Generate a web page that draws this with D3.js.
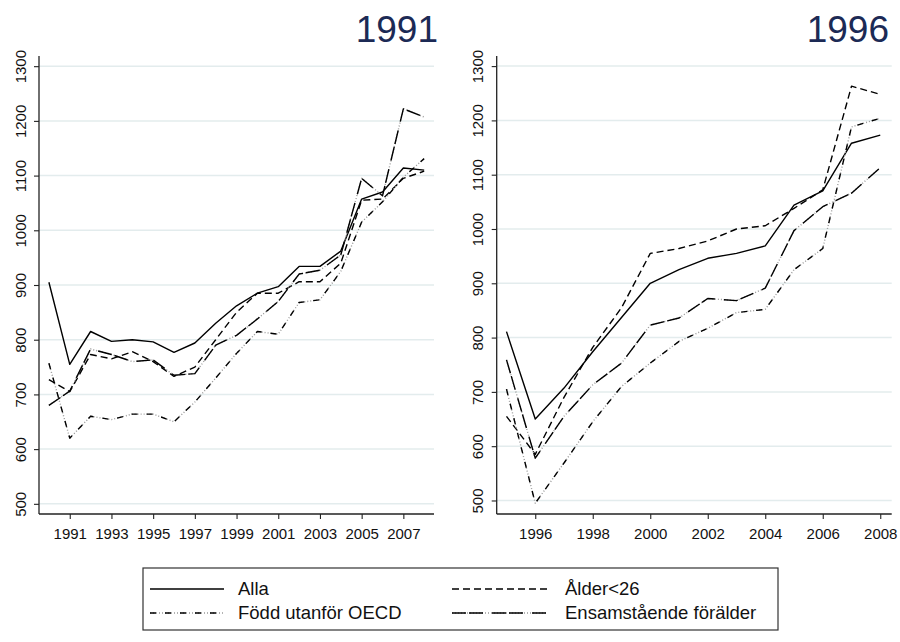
<!DOCTYPE html>
<html><head><meta charset="utf-8">
<script src="https://cdn.jsdelivr.net/npm/d3@7"></script>
<style>body{margin:0;background:#fff;} svg{display:block;font-family:"Liberation Sans",Arial,sans-serif;}</style>
</head><body><svg id="c" width="900" height="642"></svg>
<script>
// ---- data ----
const yearsLeft = d3.range(1990, 2009);
const allaLeft  = [905,755,815,797,800,796,777,794,830,862,885,897,934,934,962,1057,1070,1114,1110];
const alderLeft = [727,705,773,765,778,760,733,750,800,850,885,885,906,906,940,1055,1057,1095,1108];
const foddLeft  = [757,620,660,654,664,664,650,686,730,775,815,810,868,873,925,1015,1052,1097,1131];
const ensamLeft = [680,706,783,773,760,763,735,738,790,808,838,870,920,927,955,1095,1063,1222,1207];

const yearsRight = d3.range(1995, 2009);
const allaRight  = [811,650,707,774,837,900,925,946,955,969,1044,1070,1158,1173];
const alderRight = [655,585,690,782,855,955,964,978,1000,1006,1038,1072,1263,1248];
const foddRight  = [705,495,569,645,710,753,793,817,846,852,925,964,1188,1204];
const ensamRight = [759,578,655,713,753,823,836,872,868,891,997,1041,1066,1113];

const yTicks = [500,600,700,800,900,1000,1100,1200,1300];
const xTicksLeft = [1991,1993,1995,1997,1999,2001,2003,2005,2007];
const xTicksRight = [1996,1998,2000,2002,2004,2006,2008];
const seriesNames = ["Alla","Ålder<26","Född utanför OECD","Ensamstående förälder"];
const panelTitles = ["1991","1996"];

// ---- styles ----
const styles = [
  [{stroke:"#000", dash:null}],
  [{stroke:"#000", dash:"7,4"}],
  [{stroke:"#9a9a9a", dash:"1,2"}, {stroke:"#000", dash:"6,9"}],
  [{stroke:"#9a9a9a", dash:"1,2"}, {stroke:"#000", dash:"14,3,14,9"}]
];

const svg = d3.select("#c");

function panel(cfg){
  const g = svg.append("g");
  const x = d3.scaleLinear().domain(cfg.xdom).range(cfg.xr);
  const y = d3.scaleLinear().domain(cfg.ydom).range([514,56]);
  // gridlines
  g.selectAll("line.grid").data(yTicks).join("line")
    .attr("x1", cfg.axisX).attr("x2", cfg.right)
    .attr("y1", d=>y(d)).attr("y2", d=>y(d))
    .attr("stroke","#e3eced").attr("stroke-width",1.5);
  // y axis
  const ya = d3.axisLeft(y).tickValues(yTicks).tickSize(5).tickFormat(d3.format("d"));
  const yg = g.append("g").attr("transform",`translate(${cfg.axisX},0)`).call(ya);
  yg.select(".domain").attr("d",`M0,56V514`).attr("stroke","#222").attr("stroke-width",1.3);
  yg.selectAll(".tick line").attr("stroke","#222").attr("stroke-width",1.1);
  yg.selectAll(".tick text").attr("font-size",15).attr("fill","#111")
    .attr("text-anchor","middle").attr("dy",0).attr("x",0)
    .attr("transform","translate(-13.5,0) rotate(-90)");
  // x axis
  const xa = d3.axisBottom(x).tickValues(cfg.xticks).tickSize(5).tickFormat(d3.format("d"));
  const xg = g.append("g").attr("transform","translate(0,514)").call(xa);
  xg.select(".domain").attr("d",`M${cfg.axisX},0H${cfg.right}`).attr("stroke","#222").attr("stroke-width",1.3);
  xg.selectAll(".tick line").attr("stroke","#222").attr("stroke-width",1.1);
  xg.selectAll(".tick text").attr("font-size",15).attr("fill","#111").attr("dy","1.15em");
  // lines
  const line = d3.line().x((d,i)=>x(cfg.years[i])).y(d=>y(d));
  cfg.series.forEach((vals, si)=>{
    styles[si].forEach(st=>{
      g.append("path").attr("d", line(vals)).attr("fill","none")
        .attr("stroke",st.stroke).attr("stroke-width",1.4)
        .attr("stroke-dasharray",st.dash).attr("stroke-linejoin","round");
    });
  });
  // title
  g.append("text").attr("x",cfg.titleX).attr("y",42).attr("text-anchor","end")
    .attr("font-size",37).attr("fill","#1c2a55").text(cfg.title);
}

panel({xdom:[1990,2008], xr:[48.9,424.2], ydom:[481.4,1318.6], axisX:39, right:434,
  years:yearsLeft, series:[allaLeft,alderLeft,foddLeft,ensamLeft], xticks:xTicksLeft,
  title:panelTitles[0], titleX:438});
panel({xdom:[1995,2008], xr:[506.5,880.25], ydom:[475.1,1318.6], axisX:496.7, right:891.7,
  years:yearsRight, series:[allaRight,alderRight,foddRight,ensamRight], xticks:xTicksRight,
  title:panelTitles[1], titleX:889});

// legend
const lg = svg.append("g");
lg.append("rect").attr("x",143).attr("y",568).attr("width",635).attr("height",62)
  .attr("fill","#fff").attr("stroke","#333").attr("stroke-width",1.2);
const pos = [[150,224,238,589],[452,548,565,589],[150,224,238,613],[452,548,565,613]];
seriesNames.forEach((name,i)=>{
  const p = pos[i];
  styles[i].forEach(st=>{
    lg.append("line").attr("x1",p[0]).attr("x2",p[1]).attr("y1",p[3]).attr("y2",p[3])
      .attr("stroke",st.stroke).attr("stroke-width",1.5).attr("stroke-dasharray",st.dash);
  });
  lg.append("text").attr("x",p[2]).attr("y",p[3]+6).attr("font-size",18.5).attr("fill","#111").text(name);
});
</script></body></html>
